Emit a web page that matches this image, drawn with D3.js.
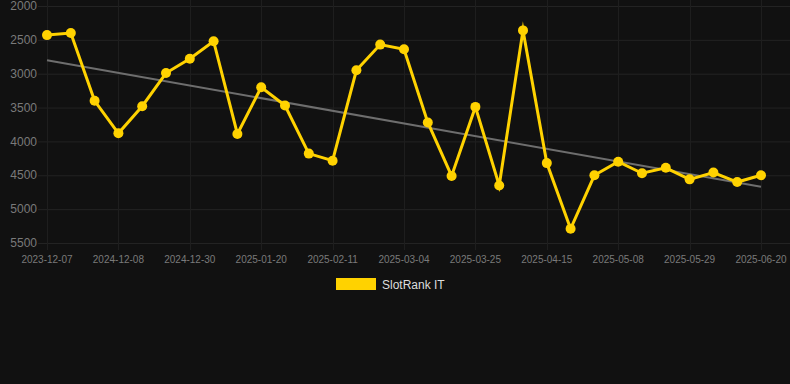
<!DOCTYPE html>
<html>
<head>
<meta charset="utf-8">
<script src="https://cdn.jsdelivr.net/npm/d3@7"></script>
<style>
  html, body { margin: 0; padding: 0; background: #111111; }
  svg { display: block; font-family: "Liberation Sans", Arial, sans-serif; }
</style>
</head>
<body>
<svg id="chart" width="790" height="384"></svg>
<script>
// dates on the x axis (only every 3rd one is labelled)
var dates = [
  "2023-12-07", "", "", "2024-12-08", "", "", "2024-12-30", "", "", "2025-01-20", "", "",
  "2025-02-11", "", "", "2025-03-04", "", "", "2025-03-25", "", "", "2025-04-15", "", "",
  "2025-05-08", "", "", "2025-05-29", "", "", "2025-06-20"
];
// rank values
var ranks = [
  2430, 2400, 3400, 3880, 3480, 2990, 2780, 2520, 3890, 3200, 3470,
  4180, 4285, 2950, 2570, 2640, 3720, 4510, 3490, 4650, 2360, 4320,
  5290, 4500, 4300, 4470, 4390, 4560, 4460, 4600, 4500
];
// trend line ends
var trend = [2800, 4670];
var yTicks = [2000, 2500, 3000, 3500, 4000, 4500, 5000, 5500];
var seriesName = "SlotRank IT";

var svg = d3.select("#chart");
var gold = "#ffd200";

var x = d3.scalePoint()
    .domain(d3.range(ranks.length))
    .range([47, 761]);

var y = d3.scaleLinear()
    .domain([2000, 5500])
    .range([6, 243]);

// horizontal grid + y labels
svg.append("g")
  .selectAll("line")
  .data(yTicks)
  .enter().append("line")
    .attr("x1", 38).attr("x2", 790)
    .attr("y1", function(d) { return y(d) + 0.5; })
    .attr("y2", function(d) { return y(d) + 0.5; })
    .attr("stroke", "#232323");

svg.append("g")
  .selectAll("text")
  .data(yTicks)
  .enter().append("text")
    .attr("x", 37)
    .attr("y", function(d) { return y(d); })
    .attr("dy", "0.35em")
    .attr("text-anchor", "end")
    .attr("font-size", 12)
    .attr("fill", "#7a7a7a")
    .text(function(d) { return d; });

// vertical grid at the labelled dates
var labelled = d3.range(ranks.length).filter(function(i) { return dates[i] !== ""; });

svg.append("g")
  .selectAll("line")
  .data(labelled)
  .enter().append("line")
    .attr("x1", function(i) { return Math.round(x(i)) + 0.5; })
    .attr("x2", function(i) { return Math.round(x(i)) + 0.5; })
    .attr("y1", 0).attr("y2", 250)
    .attr("stroke", "#1e1e1e");

svg.append("g")
  .selectAll("text")
  .data(labelled)
  .enter().append("text")
    .attr("x", function(i) { return x(i); })
    .attr("y", 259)
    .attr("dy", "0.35em")
    .attr("text-anchor", "middle")
    .attr("font-size", 10)
    .attr("fill", "#7a7a7a")
    .text(function(i) { return dates[i]; });

// trend line
svg.append("line")
    .attr("x1", x(0)).attr("y1", y(trend[0]))
    .attr("x2", x(ranks.length - 1)).attr("y2", y(trend[1]))
    .attr("stroke", "#6e6e6e")
    .attr("stroke-width", 2);

// series line
var line = d3.line()
    .x(function(d, i) { return x(i); })
    .y(function(d) { return y(d); });

svg.append("path")
    .datum(ranks)
    .attr("d", line)
    .attr("fill", "none")
    .attr("stroke", gold)
    .attr("stroke-width", 3)
    .attr("stroke-linejoin", "miter")
    .attr("stroke-miterlimit", 10);

svg.append("g")
  .selectAll("circle")
  .data(ranks)
  .enter().append("circle")
    .attr("cx", function(d, i) { return x(i); })
    .attr("cy", function(d) { return y(d); })
    .attr("r", 5)
    .attr("fill", gold);

// legend
svg.append("rect")
    .attr("x", 336).attr("y", 278)
    .attr("width", 40).attr("height", 12)
    .attr("fill", gold);

svg.append("text")
    .attr("x", 382).attr("y", 285)
    .attr("dy", "0.35em")
    .attr("font-size", 12)
    .attr("fill", "#dddddd")
    .text(seriesName);
</script>
</body>
</html>
